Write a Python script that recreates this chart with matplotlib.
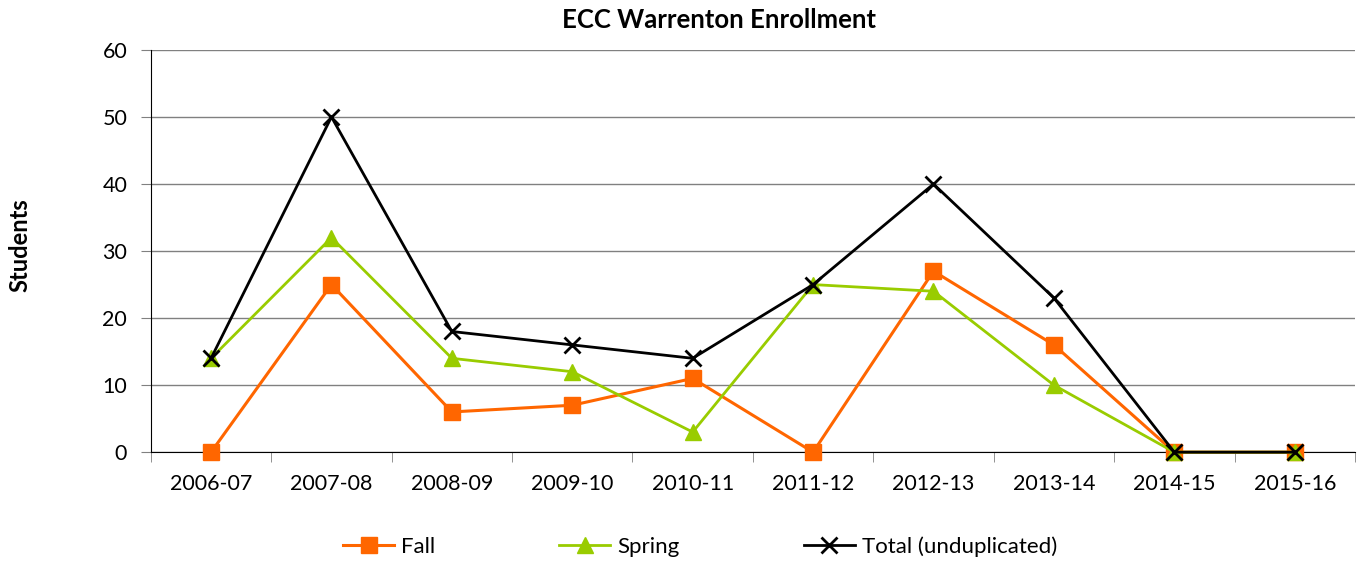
import matplotlib.pyplot as plt
import numpy as np

plt.rcParams['font.family'] = ['Lato', 'DejaVu Sans']

years = ["2006-07", "2007-08", "2008-09", "2009-10", "2010-11",
         "2011-12", "2012-13", "2013-14", "2014-15", "2015-16"]
fall = [0, 25, 6, 7, 11, 0, 27, 16, 0, 0]
spring = [14, 32, 14, 12, 3, 25, 24, 10, 0, 0]
total = [14, 50, 18, 16, 14, 25, 40, 23, 0, 0]

fig = plt.figure(figsize=(13.59, 5.61), dpi=100)
ax = fig.add_axes([0.111, 0.194, 0.886, 0.717])

x = np.arange(len(years))
ax.plot(x, fall, color="#FF6600", lw=2.2, marker="s", ms=11, label="Fall",
        clip_on=False, zorder=3)
ax.plot(x, spring, color="#99CC00", lw=2, marker="^", ms=11, label="Spring",
        clip_on=False, zorder=4)
ax.plot(x, total, color="black", lw=2, marker="x", ms=11, mew=2,
        label="Total (unduplicated)", clip_on=False, zorder=5)

ax.set_xlim(-0.5, len(years) - 0.5)
ax.set_ylim(0, 60)
ax.set_yticks(range(0, 61, 10))
ax.set_xticks(x)
ax.set_xticklabels(years)
ax.set_xticks(np.arange(-0.5, len(years), 1), minor=True)
ax.tick_params(axis="x", which="major", length=0, pad=16, labelsize=15.5)
ax.tick_params(axis="x", which="minor", length=7, color="#808080")
ax.tick_params(axis="y", length=7, pad=10, labelsize=15.5, color="#808080")
ax.yaxis.grid(True, color="#808080", lw=1)
ax.set_axisbelow(True)
for s in ["top", "right"]:
    ax.spines[s].set_visible(False)
ax.spines["left"].set_color("black")
ax.spines["bottom"].set_color("black")

fig.text(719 / 1359, 1 - 20 / 561, "ECC Warrenton Enrollment", fontsize=18.5,
         fontweight="bold", ha="center", va="center")
fig.text(20 / 1359, 1 - 245 / 561, "Students", fontsize=17, fontweight="bold",
         rotation=90, ha="center", va="center")

fig.legend(loc="lower center", bbox_to_anchor=(0.515, -0.028), ncol=3,
           frameon=False, fontsize=16, columnspacing=5.6, handlelength=2.3,
           handletextpad=0.3)

fig.savefig("out.png", dpi=100)
